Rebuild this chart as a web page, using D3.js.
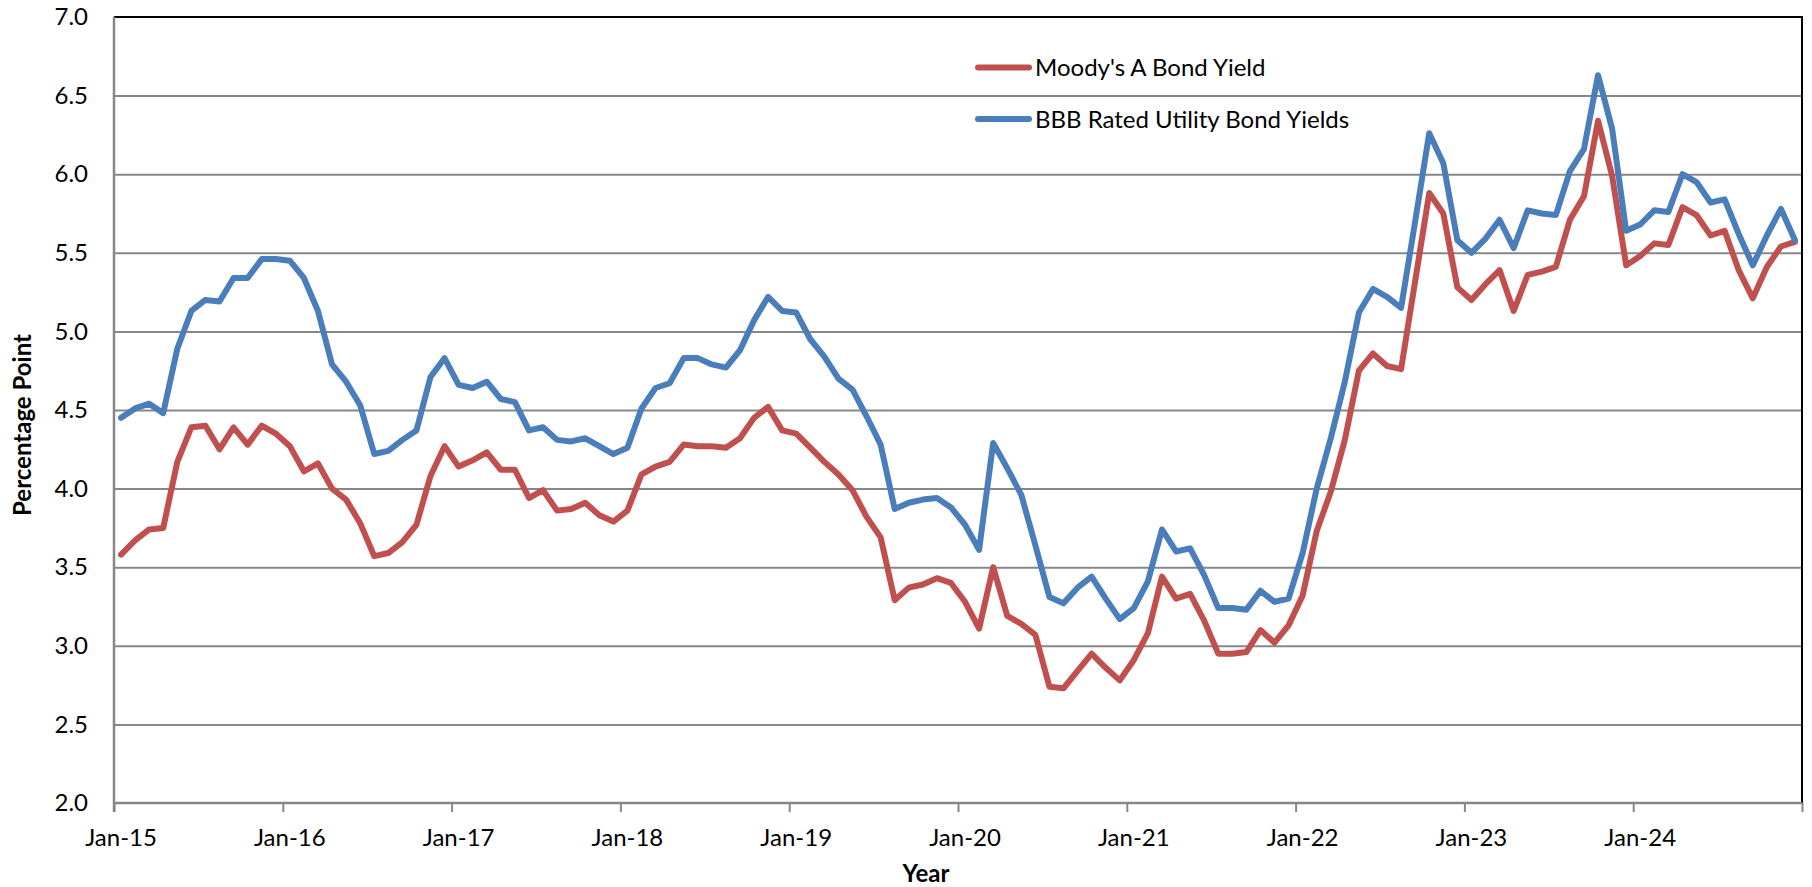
<!DOCTYPE html>
<html>
<head>
<meta charset="utf-8">
<script src="https://cdn.jsdelivr.net/npm/d3@7"></script>
<style>
  html, body { margin: 0; padding: 0; background: #fff; }
  svg { display: block; }
  text { font-family: Lato, "Open Sans", sans-serif; fill: #000; }
</style>
</head>
<body>
<svg id="chart" width="1812" height="887"></svg>
<script>
// ---- data ----
const startMonth = new Date(2015, 0, 1);
const categories = d3.timeMonth.range(startMonth, new Date(2025, 0, 1)); // Jan-15 .. Dec-24
const tickLabels = ["Jan-15","Jan-16","Jan-17","Jan-18","Jan-19","Jan-20","Jan-21","Jan-22","Jan-23","Jan-24"];
const yTicks = [2.0, 2.5, 3.0, 3.5, 4.0, 4.5, 5.0, 5.5, 6.0, 6.5, 7.0];
const seriesNames = ["Moody's A Bond Yield", "BBB Rated Utility Bond Yields"];

const moodysA = [
  3.58, 3.67, 3.74, 3.75, 4.17, 4.39, 4.40, 4.25, 4.39, 4.28, 4.40, 4.35,
  4.27, 4.11, 4.16, 4.00, 3.93, 3.78, 3.57, 3.59, 3.66, 3.77, 4.08, 4.27,
  4.14, 4.18, 4.23, 4.12, 4.12, 3.94, 3.99, 3.86, 3.87, 3.91, 3.83, 3.79,
  3.86, 4.09, 4.14, 4.17, 4.28, 4.27, 4.27, 4.26, 4.32, 4.45, 4.52, 4.37,
  4.35, 4.26, 4.17, 4.09, 3.99, 3.82, 3.69, 3.29, 3.37, 3.39, 3.43, 3.40,
  3.28, 3.11, 3.50, 3.19, 3.14, 3.07, 2.74, 2.73, 2.84, 2.95, 2.86, 2.78,
  2.91, 3.08, 3.44, 3.30, 3.33, 3.16, 2.95, 2.95, 2.96, 3.10, 3.02, 3.13,
  3.32, 3.73, 3.98, 4.31, 4.75, 4.86, 4.78, 4.76, 5.32, 5.88, 5.75, 5.28,
  5.20, 5.30, 5.39, 5.13, 5.36, 5.38, 5.41, 5.71, 5.86, 6.34, 5.99, 5.42,
  5.48, 5.56, 5.55, 5.79, 5.74, 5.61, 5.64, 5.39, 5.21, 5.41, 5.54, 5.57
];
const bbbUtility = [
  4.45, 4.51, 4.54, 4.48, 4.89, 5.13, 5.20, 5.19, 5.34, 5.34, 5.46, 5.46,
  5.45, 5.34, 5.13, 4.79, 4.68, 4.53, 4.22, 4.24, 4.31, 4.37, 4.71, 4.83,
  4.66, 4.64, 4.68, 4.57, 4.55, 4.37, 4.39, 4.31, 4.30, 4.32, 4.27, 4.22,
  4.26, 4.51, 4.64, 4.67, 4.83, 4.83, 4.79, 4.77, 4.88, 5.07, 5.22, 5.13,
  5.12, 4.95, 4.84, 4.70, 4.63, 4.46, 4.28, 3.87, 3.91, 3.93, 3.94, 3.88,
  3.77, 3.61, 4.29, 4.13, 3.96, 3.64, 3.31, 3.27, 3.37, 3.44, 3.30, 3.17,
  3.24, 3.41, 3.74, 3.60, 3.62, 3.45, 3.24, 3.24, 3.23, 3.35, 3.28, 3.30,
  3.59, 4.00, 4.32, 4.68, 5.12, 5.27, 5.22, 5.15, 5.70, 6.26, 6.07, 5.58,
  5.50, 5.59, 5.71, 5.53, 5.77, 5.75, 5.74, 6.02, 6.16, 6.63, 6.29, 5.64,
  5.68, 5.77, 5.76, 6.00, 5.95, 5.82, 5.84, 5.62, 5.42, 5.61, 5.78, 5.58
];
const colors = ["#C0504D", "#4A7EBB"];

// ---- layout ----
const L = 114, R = 1802, T = 17, B = 803;
const svg = d3.select("#chart");

const x = d3.scaleBand().domain(categories).range([L, R]).paddingInner(0).paddingOuter(0);
const xIdx = d3.scaleLinear().domain([0, categories.length]).range([L, R]);
const y = d3.scaleLinear().domain([2, 7]).range([B, T]);

// gridlines
svg.append("g")
  .attr("transform", `translate(${L},0)`)
  .call(d3.axisLeft(y).tickValues(yTicks.filter(v => v > 2 && v < 7)).tickSize(-(R - L)).tickFormat(""))
  .call(g => g.select(".domain").remove())
  .call(g => g.selectAll(".tick line").attr("stroke", "#878787").attr("stroke-width", 2));

// plot border (top/right black)
svg.append("path")
  .attr("d", `M${L},${T}H${R}V${B}`)
  .attr("fill", "none").attr("stroke", "#000").attr("stroke-width", 2);

// y labels
svg.append("g")
  .attr("transform", `translate(${L},0)`)
  .call(d3.axisLeft(y).tickValues(yTicks).tickSize(0).tickPadding(26).tickFormat(d3.format(".1f")))
  .call(g => g.select(".domain").remove())
  .call(g => g.selectAll("text").style("font-family", "Lato").style("font-size", "24px").attr("fill", "#000"));

// x tick marks
svg.append("g")
  .attr("transform", `translate(0,${B})`)
  .call(d3.axisBottom(xIdx).tickValues(d3.range(0, categories.length + 1, 12)).tickSize(9).tickFormat(""))
  .call(g => g.select(".domain").remove())
  .call(g => g.selectAll(".tick line").attr("stroke", "#878787").attr("stroke-width", 2));

// x labels
const janMonths = categories.filter(d => d.getMonth() === 0);
svg.append("g")
  .attr("transform", `translate(0,${B})`)
  .call(d3.axisBottom(x).tickValues(janMonths).tickSize(0).tickPadding(26)
        .tickFormat((d, i) => tickLabels[i]))
  .call(g => g.select(".domain").remove())
  .call(g => g.selectAll("text").style("font-family", "Lato").style("font-size", "24px").attr("fill", "#000"));

// axis lines (gray)
svg.append("line").attr("x1", L).attr("x2", R).attr("y1", B).attr("y2", B)
  .attr("stroke", "#878787").attr("stroke-width", 2.5);
svg.append("line").attr("x1", L).attr("x2", L).attr("y1", T).attr("y2", B + 9)
  .attr("stroke", "#878787").attr("stroke-width", 2.5);

// series lines
const line = d3.line()
  .x((d, i) => x(categories[i]) + x.bandwidth() / 2)
  .y(d => y(d));
[moodysA, bbbUtility].forEach((vals, k) => {
  svg.append("path")
    .datum(vals)
    .attr("d", line)
    .attr("fill", "none")
    .attr("stroke", colors[k])
    .attr("stroke-width", 6)
    .attr("stroke-linejoin", "round")
    .attr("stroke-linecap", "round");
});

// legend
const legY = [67.5, 119];
seriesNames.forEach((name, k) => {
  svg.append("line")
    .attr("x1", 978).attr("x2", 1029).attr("y1", legY[k]).attr("y2", legY[k])
    .attr("stroke", colors[k]).attr("stroke-width", 6).attr("stroke-linecap", "round");
  svg.append("text")
    .attr("x", 1035).attr("y", legY[k] + 8.5)
    .style("font-size", "24px")
    .text(name);
});

// axis titles
svg.append("text")
  .attr("x", 926).attr("y", 882)
  .attr("text-anchor", "middle")
  .style("font-size", "24px").style("font-weight", "bold")
  .text("Year");
svg.append("text")
  .attr("transform", "translate(31,425) rotate(-90)")
  .attr("text-anchor", "middle")
  .style("font-size", "24px").style("font-weight", "bold")
  .text("Percentage Point");
</script>
</body>
</html>
